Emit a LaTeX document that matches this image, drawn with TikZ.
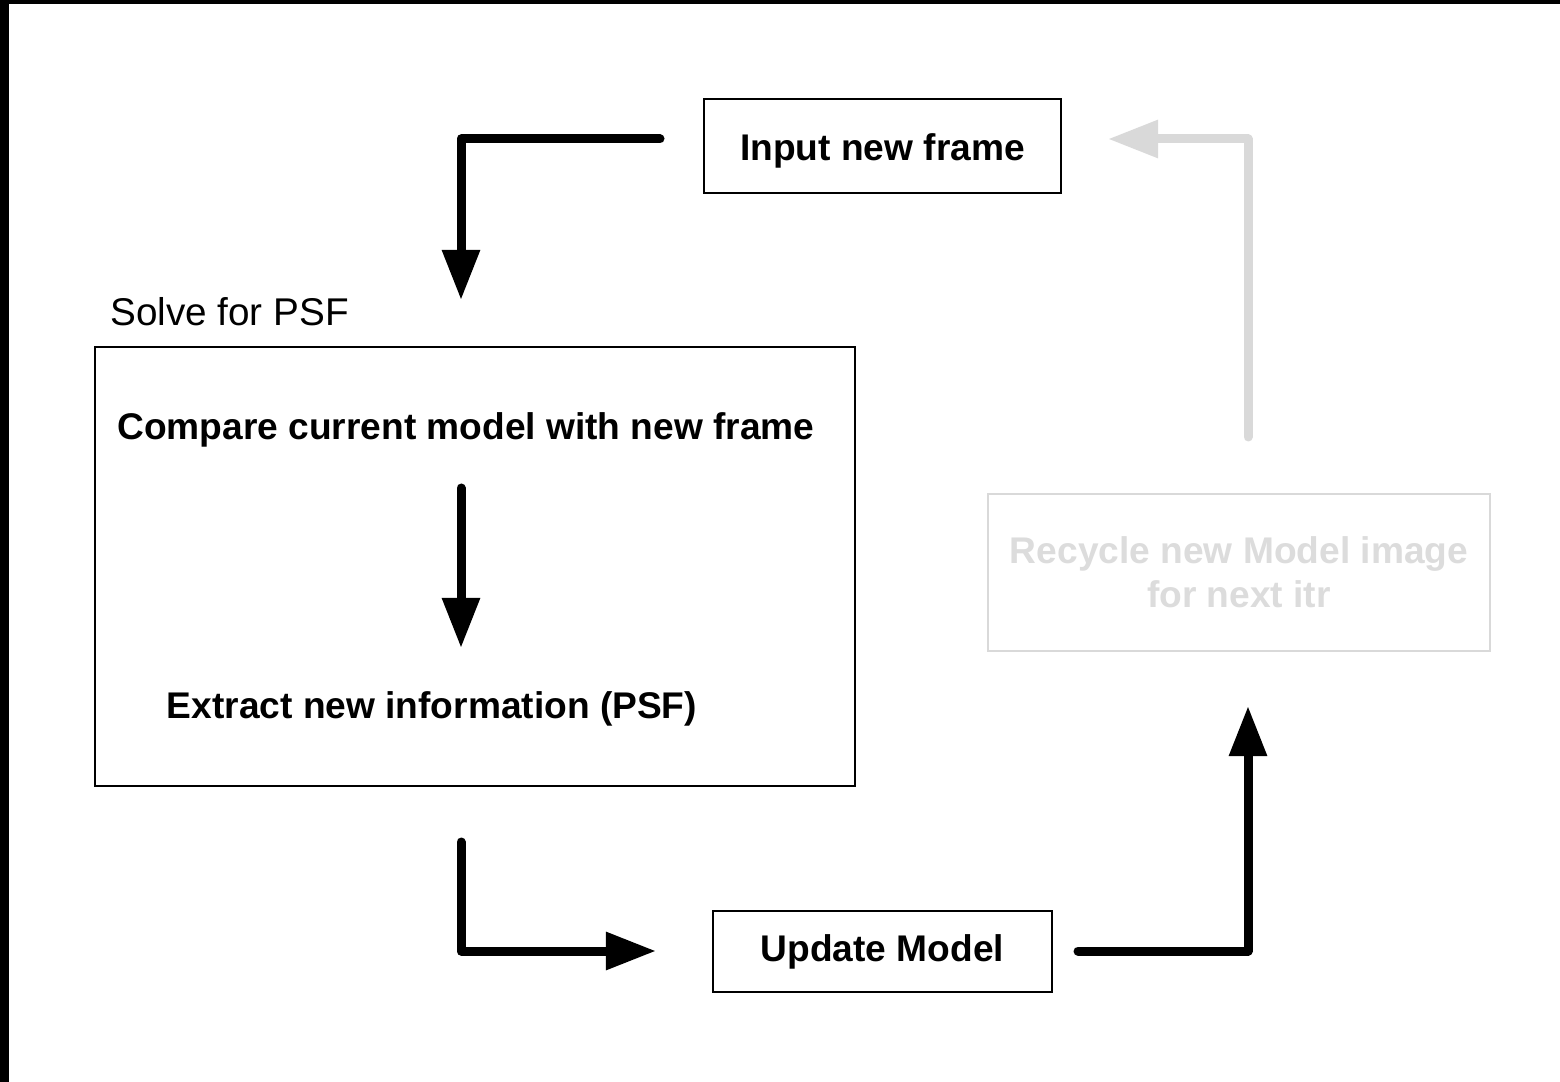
\documentclass[tikz,border=0pt]{standalone}
\usepackage{fontspec}
\setmainfont{Liberation Sans}
\usepackage{xcolor}
\usepackage{tikz}
\usetikzlibrary{arrows.meta,calc,positioning}
\definecolor{ink}{HTML}{000000}
\definecolor{faded}{HTML}{D9D9D9}
\definecolor{fadedtext}{HTML}{DCDCDC}
\tikzset{
  box/.style={
    draw=ink, line width=1.4pt, fill=white, align=center,
    font=\fontsize{26.4}{31}\selectfont\bfseries
  },
  ghostbox/.style={box, draw=faded, text=fadedtext},
  steptext/.style={font=\fontsize{26.4}{31}\selectfont\bfseries, inner sep=0pt},
  grouptitle/.style={font=\fontsize{27.5}{32}\selectfont, inner sep=0pt},
  flow/.style={-{Triangle[length=1.25cm,width=0.9cm]}, draw=ink, line width=6.4pt,
    line cap=round, line join=round},
  ghostflow/.style={flow, draw=faded}
}
\begin{document}
\begin{tikzpicture}[x=0.025cm,y=-0.025cm]
  \useasboundingbox (0,0) rectangle (1560,1082);
  \fill[ink] (0,0) rectangle (9,1082);
  \fill[ink] (0,0) rectangle (1560,4);

  % boxes
  \node[box, minimum width=8.93cm, minimum height=2.35cm, text height=0.93cm, text depth=0.2cm] (input) at (882.5,146) {Input new frame};
  \node[box, minimum width=19cm, minimum height=10.98cm] (solve) at (475,566.5) {};
  \node[grouptitle, anchor=west] (solvetitle) at (110,312) {Solve for PSF};
  \node[steptext] (compare) at (466,430) {Compare current model with new frame};
  \node[steptext] (extract) at (432,709) {Extract new information (PSF)};
  \node[ghostbox, minimum width=12.55cm, minimum height=3.93cm] (recycle) at (1239,572.5) {Recycle new Model image\\for next itr};
  \node[box, minimum width=8.48cm, minimum height=2.03cm] (update) at (882.5,951.5) {Update Model};

  % free ends of the connectors
  \coordinate (inputL) at (660,139);
  \coordinate (solveT) at (461,300);
  \coordinate (compareB) at (461,488);
  \coordinate (extractT) at (461,648);
  \coordinate (solveB) at (461,842);
  \coordinate (updateL) at (656,951);
  \coordinate (updateR) at (1078,951);
  \coordinate (recycleB) at (1248,706);
  \coordinate (recycleT) at (1248,437);
  \coordinate (inputR) at (1108,139);

  \draw[flow] (inputL) -| (solveT);
  \draw[flow] (compareB) -- (extractT);
  \draw[flow] (solveB) |- (updateL);
  \draw[flow] (updateR) -| (recycleB);
  \draw[ghostflow] (recycleT) |- (inputR);
\end{tikzpicture}
\end{document}
